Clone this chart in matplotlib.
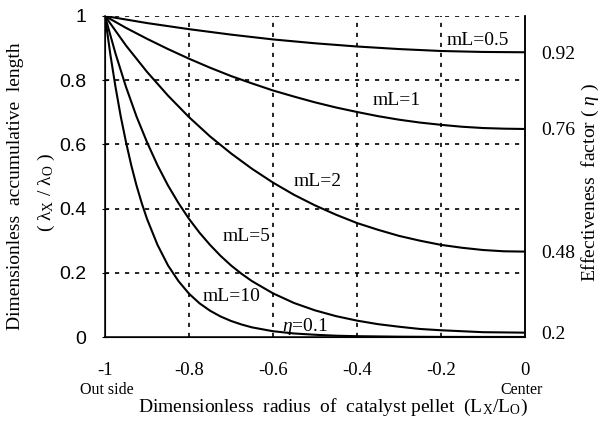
import numpy as np
import matplotlib
matplotlib.use('Agg')
import matplotlib.pyplot as plt

plt.rcParams['font.family'] = ['Liberation Serif', 'DejaVu Serif']
plt.rcParams['mathtext.fontset'] = 'custom'
plt.rcParams['mathtext.rm'] = 'Liberation Serif'
plt.rcParams['mathtext.it'] = 'Liberation Serif:italic'

# position across the pellet (-1 = outside, 0 = center)
x_05 = [-1.0, -0.9, -0.8, -0.7, -0.6, -0.5, -0.4, -0.3, -0.2, -0.1, 0.0]
ml05 = [1.0, 0.978, 0.959, 0.942, 0.927, 0.915, 0.905, 0.897, 0.891, 0.888, 0.887]

x_fine = [-1.0, -0.95, -0.9, -0.85, -0.8, -0.75, -0.7, -0.65, -0.6, -0.55, -0.5,
          -0.45, -0.4, -0.35, -0.3, -0.25, -0.2, -0.15, -0.1, -0.05, 0.0]
ml1 = [1.0, 0.963, 0.929, 0.897, 0.867, 0.839, 0.813, 0.790, 0.768, 0.749, 0.731,
       0.715, 0.701, 0.688, 0.677, 0.668, 0.661, 0.655, 0.651, 0.649, 0.648]
ml2 = [1.0, 0.908, 0.826, 0.752, 0.685, 0.625, 0.572, 0.524, 0.481, 0.443, 0.410,
       0.381, 0.355, 0.334, 0.315, 0.300, 0.287, 0.278, 0.271, 0.267, 0.266]

x_ml5 = [-1.0, -0.975, -0.95, -0.925, -0.9, -0.875, -0.85, -0.825, -0.8, -0.775, -0.75,
         -0.725, -0.7, -0.675, -0.65, -0.6, -0.55, -0.5, -0.45, -0.4, -0.35, -0.3,
         -0.25, -0.2, -0.1, 0.0]
ml5 = [1.0, 0.883, 0.779, 0.687, 0.607, 0.535, 0.472, 0.417, 0.368, 0.325, 0.287,
       0.253, 0.223, 0.197, 0.174, 0.136, 0.106, 0.083, 0.065, 0.051, 0.040, 0.032,
       0.025, 0.021, 0.015, 0.0135]

x_ml10 = [-1.0, -0.9875, -0.975, -0.9625, -0.95, -0.9375, -0.925, -0.9125, -0.9, -0.875,
          -0.85, -0.825, -0.8, -0.775, -0.75, -0.725, -0.7, -0.675, -0.65, -0.6, -0.55,
          -0.5, -0.45, -0.4, -0.3, -0.2, 0.0]
ml10 = [1.0, 0.882, 0.779, 0.687, 0.607, 0.535, 0.472, 0.417, 0.368, 0.287,
        0.223, 0.174, 0.135, 0.105, 0.082, 0.064, 0.050, 0.039, 0.030, 0.018, 0.011,
        0.007, 0.004, 0.0025, 0.001, 0.0003, 0.0001]

eta_labels = ['0.92', '0.76', '0.48', '0.2']

fig = plt.figure(figsize=(6.01, 4.25), dpi=100)
fig.set_facecolor('white')
ax = fig.add_axes([105 / 601, 88 / 425, 420 / 601, 321 / 425])

grid_ls = (0, (2.5, 3.5))
for gx in [-0.8, -0.6, -0.4, -0.2]:
    ax.axvline(gx, color='black', lw=1.2, ls=grid_ls, zorder=1)
for gy in [0.2, 0.4, 0.6, 0.8, 1.0]:
    ax.axhline(gy, color='black', lw=1.2, ls=grid_ls, zorder=1)

for xs, ys in [(x_05, ml05), (x_fine, ml1), (x_fine, ml2), (x_ml5, ml5), (x_ml10, ml10)]:
    ax.plot(xs, ys, color='black', lw=1.5, zorder=3)

ax.set_xlim(-1, 0)
ax.set_ylim(0, 1)
ax.spines['top'].set_visible(False)
for s in ['left', 'bottom', 'right']:
    ax.spines[s].set_linewidth(1.1)

ax.set_xticks([-1, -0.8, -0.6, -0.4, -0.2, 0])
ax.set_xticklabels(['-1', '-0.8', '-0.6', '-0.4', '-0.2', '0'], fontsize=13.5)
ax.set_yticks([0, 0.2, 0.4, 0.6, 0.8, 1])
ax.set_yticklabels(['0', '0.2', '0.4', '0.6', '0.8', '1'], fontsize=14, family='Liberation Sans')
ax.tick_params(axis='x', direction='in', length=0, pad=18)
ax.tick_params(axis='y', direction='inout', length=5, pad=11)

ax2 = ax.twinx()
ax2.set_ylim(0, 1)
ax2.set_yticks([ml05[-1], ml1[-1], ml2[-1], ml5[-1]])
ax2.set_yticklabels(eta_labels, fontsize=14)
ax2.tick_params(axis='y', length=0, pad=12)
ax2.spines['top'].set_visible(False)
ax2.spines['right'].set_linewidth(1.1)

tk = dict(fontsize=14, ha='left', va='center', zorder=4)
ax.text(-0.186, 0.925, 'mL=0.5', **tk)
ax.text(-0.362, 0.738, 'mL=1', **tk)
ax.text(-0.552, 0.483, 'mL=2', **tk)
ax.text(-0.721, 0.312, 'mL=5', **tk)
ax.text(-0.767, 0.125, 'mL=10', **tk)
ax.text(-0.579, 0.034, r'$\eta$=0.1', **tk)

fig.text(80 / 601, 1 - 390 / 425, 'Out side', fontsize=11.5, ha='left', va='center')
fig.text(522 / 601, 1 - 390 / 425, 'Center', fontsize=11.5, ha='center', va='center')
fig.text(333 / 601, 1 - 407 / 425,
         r'Dimensionless  radius  of  catalyst pellet  (L$_\mathrm{X}$/L$_\mathrm{O}$)',
         fontsize=14, ha='center', va='center')

fig.text(16 / 601, 1 - 186 / 425, 'Dimensionless  accumulative  length',
         fontsize=14, rotation=90, ha='center', va='center')
fig.text(46 / 601, 1 - 192 / 425, r'( λ$_\mathrm{X}$ / λ$_\mathrm{O}$ )',
         fontsize=14, rotation=90, ha='center', va='center')
fig.text(590 / 601, 1 - 183 / 425, r'Effectiveness  factor ( $\eta$ )',
         fontsize=14, rotation=90, ha='center', va='center')

fig.savefig('out.png', dpi=100)
